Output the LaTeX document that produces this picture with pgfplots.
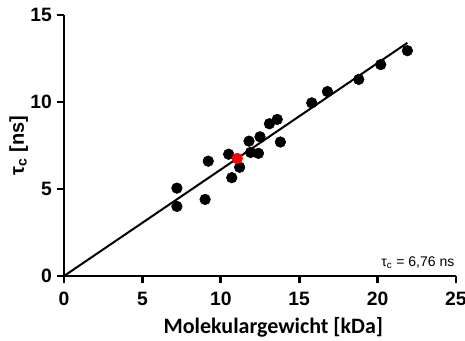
\documentclass[border=0pt]{standalone}
\usepackage{pgfplots}
\pgfplotsset{compat=1.18}
\usepackage{fontspec}
\setmainfont{Liberation Sans}
\newfontfamily\calib{Carlito}
\begin{document}
\begin{tikzpicture}
\useasboundingbox (-48pt,-48pt) rectangle (300.75pt,207pt);
\begin{axis}[
  at={(0,0)}, anchor=south west,
  scale only axis, width=294pt, height=195.75pt,
  xmin=0, xmax=25, ymin=0, ymax=15,
  axis x line=bottom, axis y line=left,
  axis line style={line width=2pt,-},
  xtick={0,5,10,15,20,25}, ytick={0,5,10,15},
  tick style={line width=2pt,black},
  tick align=outside, major tick length=5.5pt,
  /pgf/number format/assume math mode=true,
  ticklabel style={font=\fontsize{14.5}{16}\selectfont\bfseries},
  xticklabel style={yshift=-3pt},
  xlabel={\calib\bfseries Molekulargewicht [kDa]},
  xlabel style={font=\fontsize{16.5}{18}\selectfont, yshift=-2pt, xshift=10pt},
  ylabel={\bfseries τ\textsubscript{c} [ns]},
  ylabel style={font=\fontsize{15}{17}\selectfont, yshift=-5pt},
  clip=false,
]
\addplot[black, line width=1.5pt] coordinates {(0,0) (21.9,13.4)};
\addplot[only marks, mark=*, mark size=4pt, black] coordinates {
(7.2,5.05) (7.2,4.0) (9.0,4.4) (9.2,6.6) (10.5,7.0) (10.7,5.65)
(11.2,6.25) (11.8,7.75) (11.9,7.1) (12.4,7.05) (12.5,8.0) (13.1,8.75)
(13.6,9.0) (13.8,7.7) (15.8,9.95) (16.8,10.6) (18.8,11.3) (20.2,12.15)
(21.9,12.95)};
\addplot[only marks, mark=*, mark size=4pt, red, mark options={fill=red, draw=red}] coordinates {(11.05,6.76)};
\node[anchor=south east, font=\fontsize{10.5}{12}\selectfont, inner sep=1pt] at (axis cs:25,0.35) {τ\textsubscript{c} = 6,76 ns};
\end{axis}
\end{tikzpicture}
\end{document}
